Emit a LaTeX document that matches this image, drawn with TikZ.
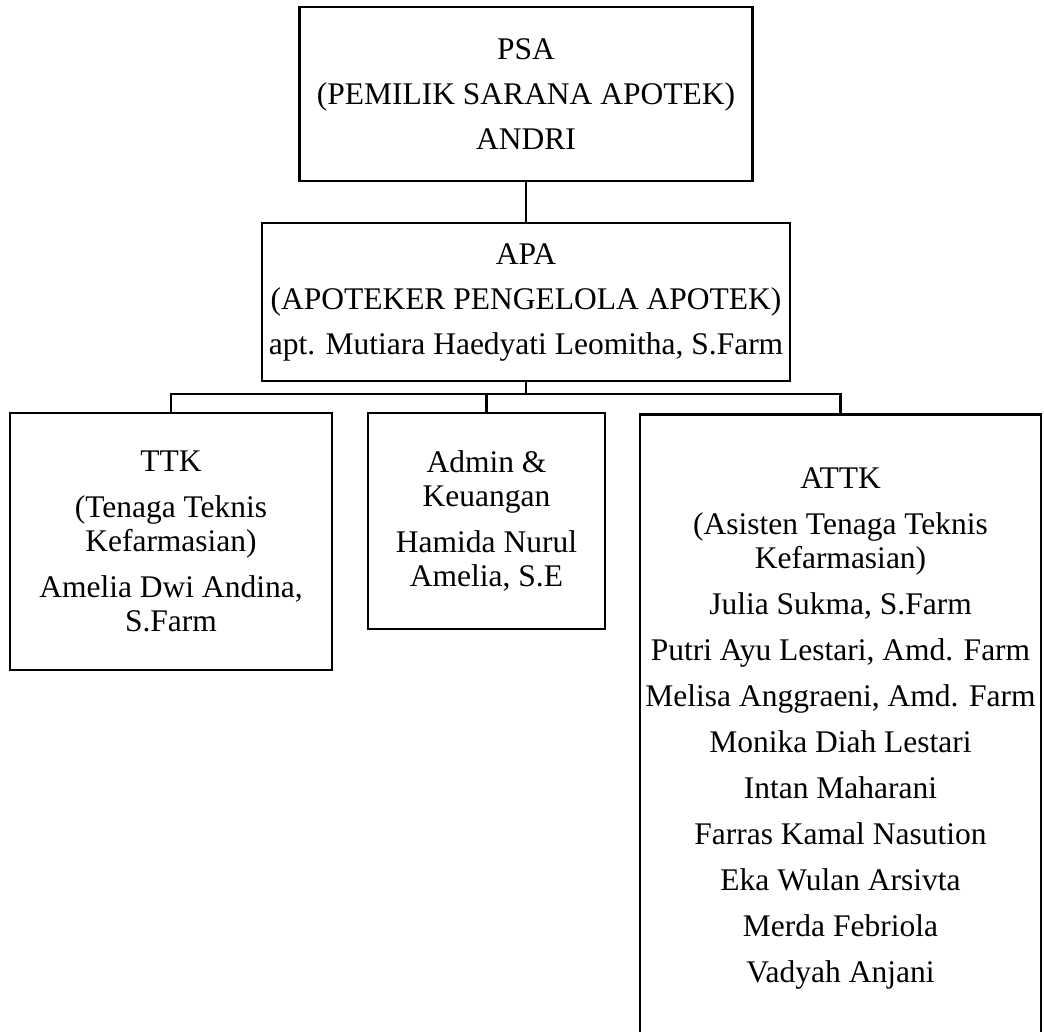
\documentclass[tikz,border=0pt]{standalone}
\usepackage{fontspec}
\setmainfont{Liberation Serif}
\begin{document}
\begin{tikzpicture}[x=1pt,y=-1pt,line width=2.6pt,
    box/.style={draw, align=center, inner sep=2pt, font=\fontsize{31.5}{34}\selectfont}]
        \useasboundingbox (0,0) rectangle (1044,1031);
        \clip (0,0) rectangle (1044,1031);
        % Pemilik
        \node[box, minimum width=453pt, minimum height=174pt] (psa) at (526,94)
            {PSA\\[11pt] (PEMILIK SARANA APOTEK)\\[11pt] ANDRI};
        % Apoteker
        \node[box, minimum width=528pt, minimum height=158pt] (apa) at (526,302)
            {APA\\[11pt] (APOTEKER PENGELOLA APOTEK)\\[11pt] apt. Mutiara Haedyati Leomitha, S.Farm};
        % Staf
        \node[box, minimum width=322pt, minimum height=257pt] (ttk) at (171,541.5)
            {TTK\\[12pt] (Tenaga Teknis\\ Kefarmasian)\\[12pt] Amelia Dwi Andina,\\ S.Farm};
        \node[box, minimum width=237pt, minimum height=216pt] (admin) at (486.5,521)
            {Admin \&\\ Keuangan\\[12pt] Hamida Nurul\\ Amelia, S.E};
        \node[box, anchor=north, minimum width=401pt, inner ysep=53.4pt] (attk) at (840.5,413)
            {ATTK\\[12pt] (Asisten Tenaga Teknis\\ Kefarmasian)\\[12pt] Julia Sukma, S.Farm\\[12pt]
             Putri Ayu Lestari, Amd. Farm\\[12pt] Melisa Anggraeni, Amd. Farm\\[12pt]
             Monika Diah Lestari\\[12pt] Intan Maharani\\[12pt] Farras Kamal Nasution\\[12pt]
             Eka Wulan Arsivta\\[12pt] Merda Febriola\\[12pt] Vadyah Anjani};
        % Garis
        \coordinate (bus) at (526,394);
        \draw (psa) -- (apa);
        \draw (apa) -- (bus);
        \draw (ttk) -- (ttk |- bus) -- (attk |- bus) -- (attk);
        \draw (admin) -- (admin |- bus);
\end{tikzpicture}
\end{document}
